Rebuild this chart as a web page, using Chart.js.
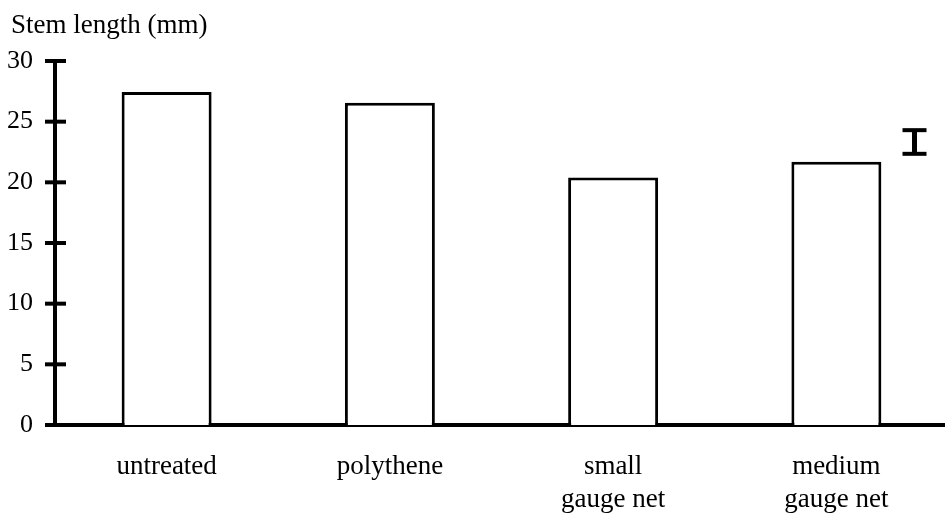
<!DOCTYPE html>
<html>
<head>
<meta charset="utf-8">
<script src="https://cdn.jsdelivr.net/npm/chart.js@4/dist/chart.umd.min.js"></script>
<style>
  html, body { margin: 0; padding: 0; background: #fff; overflow: hidden; }
  canvas { display: block; }
</style>
</head>
<body>
<canvas id="chart" width="948" height="514"></canvas>
<script>
// data
const categories = ["untreated", "polythene", ["small", "gauge net"], ["medium", "gauge net"]];
const stemLength = [27.45, 26.55, 20.4, 21.7];
const yTicks = [0, 5, 10, 15, 20, 25, 30];
const yTitle = "Stem length (mm)";
// the single "I" error bar drawn to the right of the last bar
const errorBarX = 3.35;
const errorBarRange = [22.35, 24.3];

const serif = "'Liberation Serif', 'Times New Roman', serif";

// axis caption above the y axis + tick marks that cross the y axis line
const axisDecor = {
  id: "axisDecor",
  afterDraw(chart) {
    const ctx = chart.ctx;
    const y = chart.scales.y;
    const x0 = chart.chartArea.left;
    ctx.save();
    ctx.strokeStyle = "#000";
    ctx.lineWidth = 4;
    yTicks.forEach((v) => {
      const py = y.getPixelForValue(v);
      ctx.beginPath();
      ctx.moveTo(x0 - 10, py);
      ctx.lineTo(x0 + 11, py);
      ctx.stroke();
    });
    ctx.fillStyle = "#000";
    ctx.font = "27px " + serif;
    ctx.textAlign = "left";
    ctx.textBaseline = "alphabetic";
    ctx.fillText(yTitle, 11, 33);
    ctx.restore();
  },
};

new Chart(document.getElementById("chart"), {
  type: "bar",
  data: {
    labels: categories,
    datasets: [
      {
        type: "bar",
        data: stemLength,
        backgroundColor: "#fff",
        borderColor: "#000",
        borderWidth: 3,
        grouped: false,
        categoryPercentage: 1,
        barPercentage: 0.403,
      },
      {
        type: "line",
        xAxisID: "xe",
        data: errorBarRange.map((v) => ({ x: errorBarX, y: v })),
        borderColor: "#000",
        borderWidth: 5,
        pointStyle: "line",
        pointRadius: 12,
        pointBorderWidth: 4,
        pointBorderColor: "#000",
        clip: false,
      },
    ],
  },
  options: {
    responsive: false,
    animation: false,
    layout: { autoPadding: false, padding: { left: 0, right: 0, top: 61, bottom: 0 } },
    plugins: {
      legend: { display: false },
      tooltip: { enabled: false },
    },
    scales: {
      x: {
        type: "category",
        grid: { display: false },
        border: { display: true, color: "#000", width: 4 },
        ticks: {
          color: "#000",
          padding: 18,
          maxRotation: 0,
          font: { family: serif, size: 27, lineHeight: 1.2 },
        },
        afterFit(scale) {
          scale.height = 89;
          scale.paddingLeft = 0;
          scale.paddingRight = 0;
        },
      },
      xe: {
        type: "linear",
        display: false,
        offset: false,
        min: -0.5,
        max: 3.5,
      },
      y: {
        min: 0,
        max: 30,
        grid: { display: false },
        border: { display: true, color: "#000", width: 4 },
        afterBuildTicks(scale) { scale.ticks = yTicks.map((v) => ({ value: v })); },
        ticks: {
          color: "#000",
          padding: 14,
          font: { family: serif, size: 26 },
        },
        afterFit(scale) {
          scale.width = 55;
          scale.paddingTop = 0;
          scale.paddingBottom = 0;
        },
      },
    },
  },
  plugins: [axisDecor],
});
</script>
</body>
</html>
